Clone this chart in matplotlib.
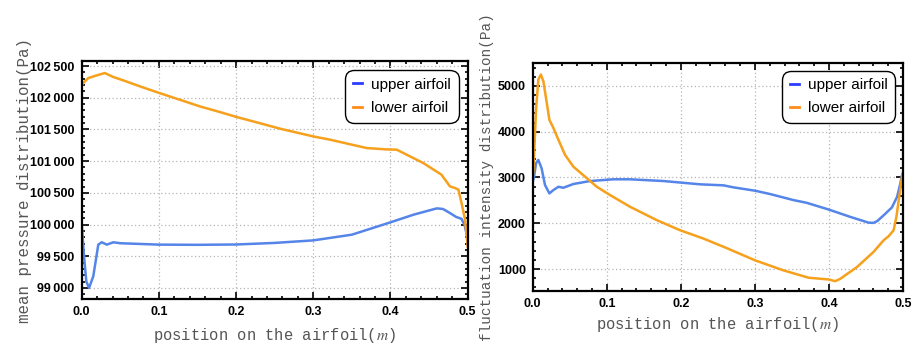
import numpy as np
import matplotlib
matplotlib.use("Agg")
import matplotlib.pyplot as plt
from matplotlib.ticker import MultipleLocator, FuncFormatter

plt.rcParams["mathtext.fontset"] = "stix"

# mean pressure, upper airfoil (Pa)
xp_upper = [0.0, 0.003, 0.006, 0.0095, 0.015, 0.0215, 0.026, 0.0325, 0.041, 0.05,
            0.1, 0.15, 0.2, 0.25, 0.3, 0.35, 0.4, 0.43, 0.46, 0.468, 0.477,
            0.485, 0.492, 0.496, 0.5]
p_upper = [100020, 99500, 99100, 98999, 99183, 99683, 99720, 99683, 99720, 99705,
           99683, 99680, 99685, 99710, 99750, 99840, 100035, 100156, 100255, 100245, 100182,
           100120, 100090, 99990, 99780]

# mean pressure, lower airfoil (Pa)
xp_lower = [0.0, 0.002, 0.0086, 0.0195, 0.030, 0.041, 0.054, 0.0756, 0.1006, 0.127,
            0.153, 0.179, 0.2008, 0.227, 0.257, 0.300, 0.322, 0.369, 0.395, 0.408,
            0.4167, 0.4425, 0.466, 0.477, 0.4836, 0.488, 0.492, 0.4966, 0.5]
p_lower = [102200, 102232, 102311, 102353, 102390, 102327, 102274, 102179, 102075, 101969,
           101864, 101775, 101696, 101611, 101512, 101390, 101338, 101207, 101185, 101181,
           101128, 100970, 100787, 100602, 100576, 100550, 100340, 100077, 99650]

# fluctuation intensity, upper airfoil (Pa)
xf_upper = [0.0, 0.0018, 0.0045, 0.0076, 0.012, 0.0166, 0.0225, 0.028, 0.0347, 0.0414,
            0.0549, 0.0775, 0.109, 0.131, 0.1765, 0.226, 0.2576, 0.271, 0.3004, 0.3207,
            0.352, 0.370, 0.3995, 0.4288, 0.4535, 0.460, 0.465, 0.474, 0.485, 0.492,
            0.4964, 0.4986, 0.5]
f_upper = [2900, 3017, 3311, 3383, 3201, 2835, 2652, 2725, 2797, 2775,
           2857, 2922, 2960, 2960, 2922, 2850, 2828, 2784, 2710, 2637,
           2506, 2446, 2300, 2139, 2013, 2008, 2045, 2176, 2346, 2578,
           2872, 3054, 3100]

# fluctuation intensity, lower airfoil (Pa)
xf_lower = [0.0, 0.001, 0.0045, 0.0076, 0.011, 0.0144, 0.019, 0.0225, 0.028, 0.0347,
            0.0437, 0.0549, 0.0707, 0.0865, 0.1045, 0.1315, 0.1676, 0.199, 0.2306, 0.26,
            0.3004, 0.3387, 0.3725, 0.3995, 0.4085, 0.4153, 0.4378, 0.460, 0.4738, 0.4805,
            0.4873, 0.491, 0.4955, 0.4986, 0.5]
f_lower = [3000, 3164, 4480, 5138, 5248, 5101, 4627, 4260, 4078, 3822,
           3493, 3236, 3017, 2797, 2615, 2359, 2067, 1847, 1665, 1470,
           1189, 970, 810, 772, 735, 787, 1043, 1371, 1628, 1716,
           1847, 2139, 2652, 3017, 3100]

BLUE = "#5585e8"
ORANGE = "#f6a01c"
LEG_BLUE = "#2a3cff"
LEG_ORANGE = "#ff8c1a"

label_font = dict(family="Liberation Mono", color="#555555")


def thin_sep(v, pos):
    s = f"{int(round(v)):,}"
    return s.replace(",", "\u2009")


def style_axes(ax, ymajor, yminor, yfmt):
    ax.set_xlim(0, 0.5)
    ax.xaxis.set_major_locator(MultipleLocator(0.1))
    ax.xaxis.set_minor_locator(MultipleLocator(0.02))
    ax.xaxis.set_major_formatter(FuncFormatter(lambda v, p: f"{v:.1f}"))
    ax.yaxis.set_major_locator(MultipleLocator(ymajor))
    ax.yaxis.set_minor_locator(MultipleLocator(yminor))
    ax.yaxis.set_major_formatter(FuncFormatter(yfmt))
    ax.tick_params(which="both", direction="in", top=True, right=True, width=1.2)
    ax.tick_params(which="major", length=5, labelsize=9, pad=5)
    ax.tick_params(which="minor", length=2.5)
    for lab in ax.get_xticklabels() + ax.get_yticklabels():
        lab.set_fontweight("bold")
        lab.set_family("Liberation Sans")
    for sp in ax.spines.values():
        sp.set_linewidth(1.6)
    ax.grid(True, which="major", linestyle=(0, (1, 2)), color="#b5b5b5", linewidth=0.9)


def add_legend(ax, pad):
    handles = [plt.Line2D([], [], color=LEG_BLUE, lw=2),
               plt.Line2D([], [], color=LEG_ORANGE, lw=2)]
    leg = ax.legend(handles, ["upper airfoil", "lower airfoil"], loc="upper right",
                    handlelength=0.6, handletextpad=0.6, borderaxespad=pad,
                    fancybox=True, framealpha=1, edgecolor="black",
                    prop={"family": "Liberation Sans", "size": 11},
                    labelspacing=0.6, borderpad=0.5)
    leg.get_frame().set_linewidth(1.0)
    leg.get_frame().set_boxstyle("round", pad=0, rounding_size=0.6)


fig = plt.figure(figsize=(9.21, 3.45), dpi=100)
ax1 = fig.add_axes([0.0887, 0.1333, 0.4191, 0.6899])
ax2 = fig.add_axes([0.5784, 0.1565, 0.4021, 0.6609])

# mean pressure panel
ax1.plot(xp_upper, p_upper, color=BLUE, lw=1.8)
ax1.plot(xp_lower, p_lower, color=ORANGE, lw=1.8)
ax1.set_ylim(98825, 102580)
style_axes(ax1, 500, 100, thin_sep)
ax1.set_xlabel("position on the airfoil($m$)", fontsize=11.2, **label_font)
ax1.set_ylabel("mean pressure distribution(Pa)", fontsize=11.4, **label_font)
ax1.xaxis.set_label_coords(0.5, -0.115)
ax1.yaxis.set_label_coords(-0.128, 0.5)
add_legend(ax1, 0.6)

# fluctuation intensity panel
ax2.plot(xf_upper, f_upper, color=BLUE, lw=1.8)
ax2.plot(xf_lower, f_lower, color=ORANGE, lw=1.8)
ax2.set_ylim(520, 5500)
style_axes(ax2, 1000, 200, lambda v, p: f"{int(v)}")
ax2.set_xlabel("position on the airfoil($m$)", fontsize=11.2, **label_font)
ax2.set_ylabel("fluctuation intensity distribution(Pa)", fontsize=10.4, **label_font)
ax2.xaxis.set_label_coords(0.5, -0.105)
ax2.yaxis.set_label_coords(-0.104, 0.5)
add_legend(ax2, 0.5)

fig.savefig("out.png", dpi=100)
